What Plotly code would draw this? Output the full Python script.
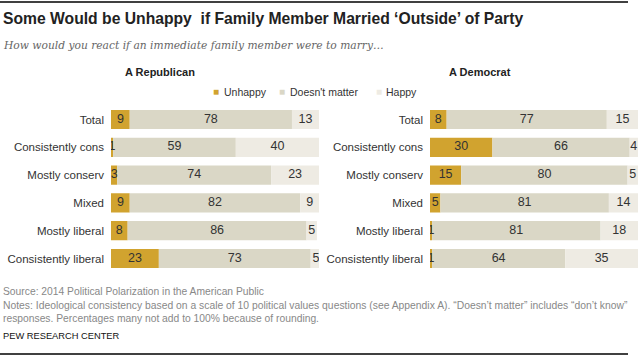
import plotly.graph_objects as go
from plotly.subplots import make_subplots

W, H = 640, 357

categories = ["Total", "Consistently cons", "Mostly conserv", "Mixed", "Mostly liberal", "Consistently liberal"]
series_names = ["Unhappy", "Doesn't matter", "Happy"]
colors = ["#D1A32F", "#DAD7C6", "#EEEBE3"]

rep_unhappy = [9, 1, 3, 9, 8, 23]
rep_nomatter = [78, 59, 74, 82, 86, 73]
rep_happy = [13, 40, 23, 9, 5, 5]

dem_unhappy = [8, 30, 15, 5, 1, 1]
dem_nomatter = [77, 66, 80, 81, 81, 64]
dem_happy = [15, 4, 5, 14, 18, 35]

panels = [("A Republican", [rep_unhappy, rep_nomatter, rep_happy]),
          ("A Democrat", [dem_unhappy, dem_nomatter, dem_happy])]

SANS = "Liberation Sans, Arial, sans-serif"

def px(x):
    return x / W

def py(y):
    return 1 - y / H

fig = make_subplots(rows=1, cols=2)

for ci, (ptitle, vals) in enumerate(panels, start=1):
    base = [0] * len(categories)
    for si, (name, v) in enumerate(zip(series_names, vals)):
        fig.add_trace(go.Bar(
            y=categories, x=v, base=base, orientation="h", name=name,
            marker=dict(color=colors[si], line=dict(width=0)),
            width=0.69, showlegend=False, hoverinfo="x+y+name"), row=1, col=ci)
        mids = [b + val / 2 for b, val in zip(base, v)]
        fig.add_trace(go.Scatter(
            y=categories, x=mids, mode="text", text=[str(val) for val in v],
            textfont=dict(family=SANS, size=12.5, color="#333333"),
            showlegend=False, hoverinfo="skip"), row=1, col=ci)
        base = [b + val for b, val in zip(base, v)]

doms = [(111, 319), (430, 638)]
ytop, ybot = 105.6, 272.4
for ci in (1, 2):
    xa = "xaxis" if ci == 1 else "xaxis2"
    ya = "yaxis" if ci == 1 else "yaxis2"
    fig.layout[xa].update(domain=[px(doms[ci - 1][0]), px(doms[ci - 1][1])], range=[0, 100],
                          showgrid=False, zeroline=False, showticklabels=False, fixedrange=True)
    fig.layout[ya].update(domain=[py(ybot), py(ytop)], range=[5.5, -0.5], type="category",
                          categoryorder="array", categoryarray=categories,
                          showgrid=False, zeroline=False, ticks="", ticklen=0,
                          ticklabelstandoff=6,
                          tickfont=dict(family=SANS, size=11.5, color="#333333"))

anns = []
anns.append(dict(text="<b>Some Would be Unhappy  if Family Member Married ‘Outside’ of Party</b>",
                 x=px(1), y=py(18), xanchor="left", yanchor="middle", showarrow=False,
                 font=dict(family=SANS, size=15.7, color="#222222")))
anns.append(dict(text="<i>How would you react if an immediate family member were to marry…</i>",
                 x=px(1), y=py(45), xanchor="left", yanchor="middle", showarrow=False,
                 font=dict(family="DejaVu Serif, Georgia, serif", size=10.7, color="#666666")))
for (ptitle, _), cx in zip(panels, [160, 480]):
    anns.append(dict(text="<b>" + ptitle + "</b>", x=px(cx), y=py(72), xanchor="center",
                     yanchor="middle", showarrow=False,
                     font=dict(family=SANS, size=11, color="#222222")))
leg_sq = [215.5, 281.5, 378.5]
leg_tx = [222, 288, 384]
for name, col, sx, tx in zip(series_names, colors, leg_sq, leg_tx):
    anns.append(dict(text="■", x=px(sx), y=py(91.5), xanchor="center", yanchor="middle",
                     showarrow=False, font=dict(family=SANS, size=10, color=col)))
    anns.append(dict(text=name, x=px(tx), y=py(92), xanchor="left", yanchor="middle",
                     showarrow=False, font=dict(family=SANS, size=10.5, color="#333333")))
notes = [("Source: 2014 Political Polarization in the American Public", 291, 10.3),
         ("Notes: Ideological consistency based on a scale of 10 political values questions (see Appendix A). “Doesn’t matter” includes “don’t know”", 305, 10.35),
         ("responses. Percentages many not add to 100% because of rounding.", 318, 10.3)]
for t, yy, fs in notes:
    anns.append(dict(text=t, x=px(1), y=py(yy), xanchor="left", yanchor="middle", showarrow=False,
                     font=dict(family=SANS, size=fs, color="#888888")))
anns.append(dict(text="PEW RESEARCH CENTER", x=px(1), y=py(336), xanchor="left", yanchor="middle",
                 showarrow=False, font=dict(family=SANS, size=9.3, color="#111111")))
for a in anns:
    a.update(xref="paper", yref="paper")

shapes = [dict(type="line", xref="paper", yref="paper", x0=0, x1=px(628), y0=py(2), y1=py(2),
               line=dict(color="#000000", width=1.5)),
          dict(type="line", xref="paper", yref="paper", x0=0, x1=px(628), y0=py(354), y1=py(354),
               line=dict(color="#000000", width=1.5))]

fig.update_layout(width=W, height=H, margin=dict(l=0, r=0, t=0, b=0),
                  paper_bgcolor="white", plot_bgcolor="white", barmode="overlay",
                  annotations=anns, shapes=shapes, showlegend=False)

fig.write_html("out.html", config={"displayModeBar": False},
               post_script="document.body.style.margin='0';")
